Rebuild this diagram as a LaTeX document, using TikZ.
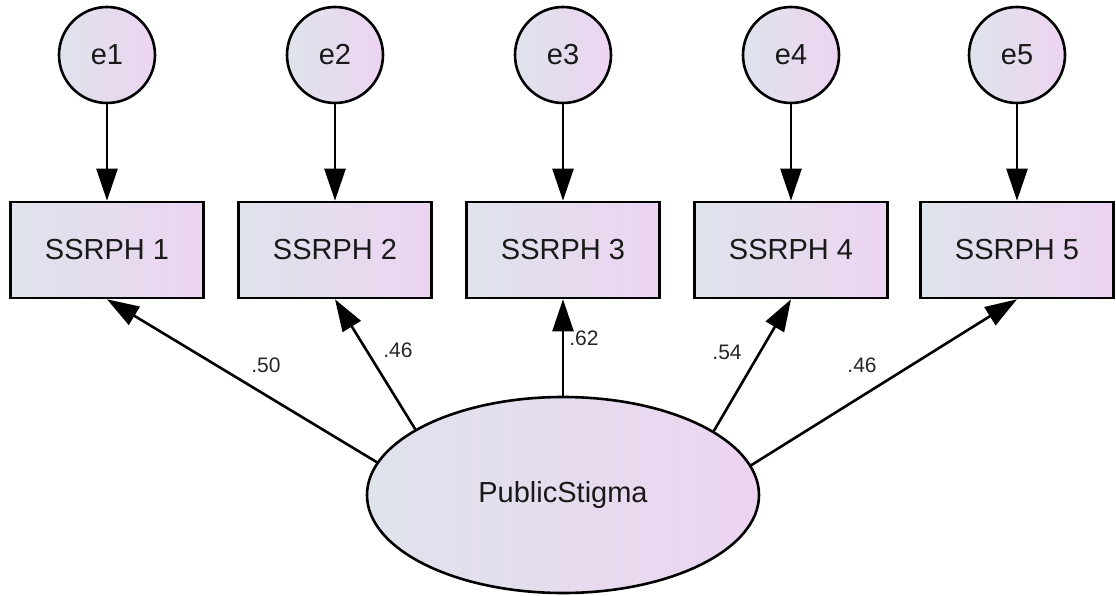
\documentclass[tikz,border=0pt]{standalone}
\usepackage{fontspec}
\setmainfont{Liberation Sans}
\usetikzlibrary{shapes.geometric,arrows.meta}
\definecolor{shadeL}{HTML}{DFE3EC}
\definecolor{shadeR}{HTML}{ECD4F1}
\tikzset{
  obj/.style={draw=black, line width=2.6pt, left color=shadeL, right color=shadeR, inner sep=0pt, font=\fontsize{29}{32}\selectfont, text=black!90},
  errc/.style={obj, circle, minimum size=96pt},
  obsbox/.style={obj, rectangle, minimum width=193pt, minimum height=96pt},
  latent/.style={obj, ellipse, minimum width=392pt, minimum height=196pt},
  path/.style={line width=2.6pt, -{Triangle[length=32pt,width=21pt]}},
  coef/.style={font=\fontsize{21}{24}\selectfont, text=black!85, inner sep=0pt}
}
\begin{document}
\begin{tikzpicture}[x=1pt,y=-1pt]
\useasboundingbox (0,0) rectangle (1116,596);
\foreach \i/\x in {1/107,2/335,3/563,4/791,5/1017}{
  \node[errc] (e\i) at (\x,55) {e\i};
  \node[obsbox] (b\i) at (\x,250) {SSRPH \i};
  \draw[path] (e\i) -- (b\i);
}
\node[latent] (ps) at (563,495) {PublicStigma};
\draw[path] (ps.170.2) -- (b1.south);
\draw[path] (ps.156.3) -- (b2.south);
\draw[path] (ps.north) -- (b3.south);
\draw[path] (ps.23.7) -- (b4.south);
\draw[path] (ps.9.8) -- (b5.south);
\node[coef] (c1) at (266,365) {.50};
\node[coef] (c2) at (398,350) {.46};
\node[coef] (c3) at (584,338) {.62};
\node[coef] (c4) at (727,352) {.54};
\node[coef] (c5) at (862,365) {.46};
\end{tikzpicture}
\end{document}
